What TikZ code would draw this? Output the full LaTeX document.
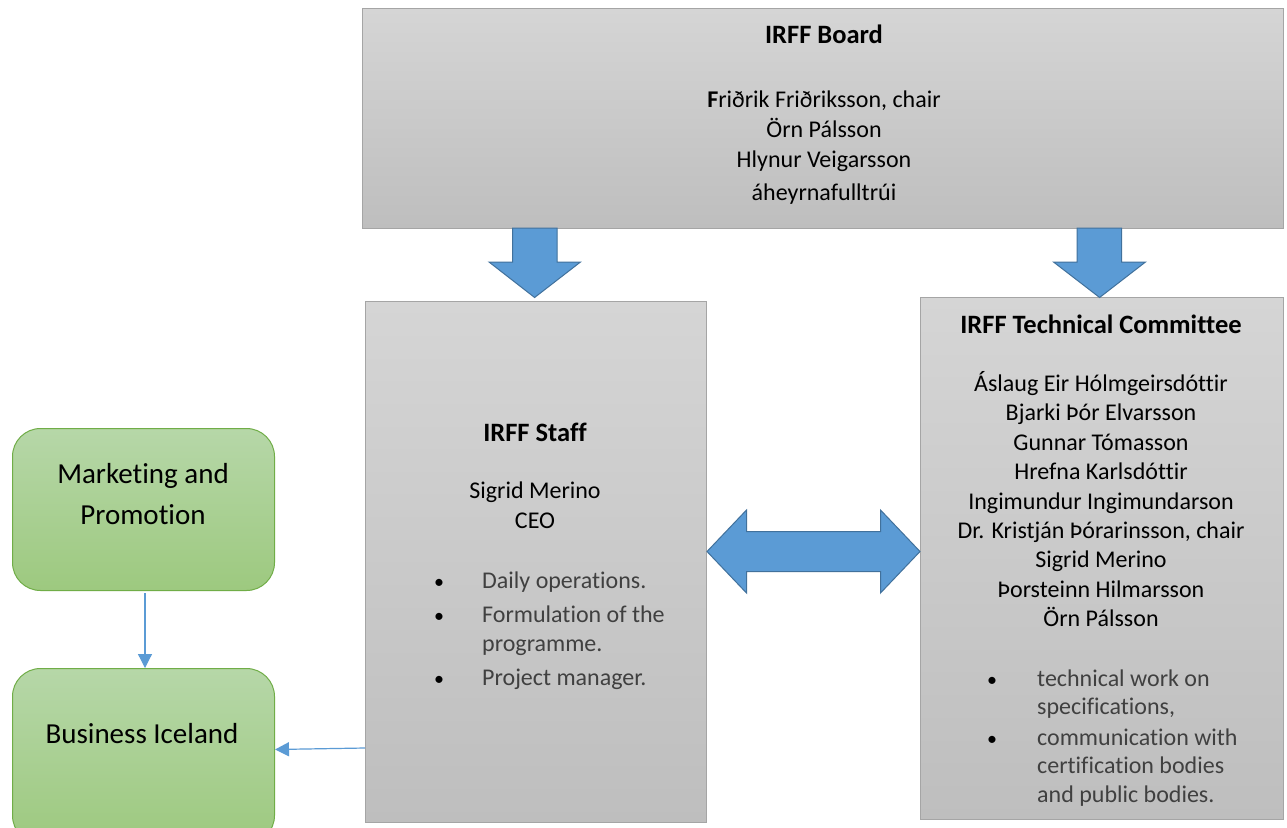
\documentclass[tikz,border=0pt]{standalone}
\usepackage{fontspec}
\setmainfont{Carlito}[Ligatures={NoCommon}]
\usetikzlibrary{arrows.meta}
\definecolor{grayTop}{HTML}{D5D5D5}
\definecolor{grayBot}{HTML}{BEBEBE}
\definecolor{grayLine}{HTML}{A5A5A5}
\definecolor{greenTop}{HTML}{B6D7A8}
\definecolor{greenBot}{HTML}{9DC97F}
\definecolor{greenLine}{HTML}{70AD47}
\definecolor{blueFill}{HTML}{5B9BD5}
\definecolor{blueLine}{HTML}{41719C}
\definecolor{bulletText}{HTML}{404040}
\tikzset{
  graybox/.style={draw=grayLine, line width=1pt, top color=grayTop, bottom color=grayBot, anchor=north west, inner sep=0pt},
  greenbox/.style={draw=greenLine, line width=1pt, top color=greenTop, bottom color=greenBot, anchor=north west, rounded corners=28pt, inner sep=0pt},
  txt/.style={anchor=base, inner sep=0pt, font=\fontsize{24}{29}\selectfont},
  btxt/.style={anchor=base, inner sep=0pt, font=\fontsize{26.5}{30}\selectfont\bfseries},
  gtxt/.style={anchor=base, inner sep=0pt, font=\fontsize{29}{41}\selectfont},
  litem/.style={anchor=base west, inner sep=0pt, text=bulletText, font=\fontsize{24}{29}\selectfont},
  bul/.style={anchor=base, inner sep=0pt, font=\fontsize{20}{29}\selectfont},
  blockarrow/.style={fill=blueFill, draw=blueLine, line width=1pt, line join=miter},
  thinarrow/.style={draw=blueFill, line width=1.2pt, -{Triangle[length=14pt, width=14pt]}}
}
\begin{document}
\begin{tikzpicture}[x=1pt,y=-1pt]
\useasboundingbox (0,0) rectangle (1287,827);
\fill[white] (0,0) rectangle (1287,827);

% boxes
\node[graybox, minimum width=921pt, minimum height=220pt] (board) at (362,8) {};
\node[graybox, minimum width=341pt, minimum height=521pt] (staff) at (365,301) {};
\node[graybox, minimum width=363pt, minimum height=522pt] (tech) at (920,297) {};
\node[greenbox, minimum width=262pt, minimum height=162pt] (mkt) at (12,428) {};
\node[greenbox, minimum width=262pt, minimum height=175pt] (bi) at (12,668) {};

% board text
\node[btxt] (bt) at (824,43) {IRFF Board};
\node[txt] (b1) at (824,107) {\textbf{F}riðrik Friðriksson, chair};
\node[txt] (b2) at (824,137) {Örn Pálsson};
\node[txt] (b3) at (824,167) {Hlynur Veigarsson};
\node[txt] (b4) at (824,200) {áheyrnafulltrúi};

% staff text
\node[btxt] (st) at (535,441) {IRFF Staff};
\node[txt] (s1) at (535,498) {Sigrid Merino};
\node[txt] (s2) at (535,528) {CEO};
\node[bul] (sb1) at (439,588) {•};
\node[litem] (si1) at (482,588) {Daily operations.};
\node[bul] (sb2) at (439,622) {•};
\node[litem] (si2) at (482,622) {Formulation of the};
\node[litem] (si3) at (482,651) {programme.};
\node[bul] (sb3) at (439,685) {•};
\node[litem] (si4) at (482,685) {Project manager.};

% tech text
\node[btxt] (tt) at (1101,333) {IRFF Technical Committee};
\node[txt] (t1) at (1101,391) {Áslaug Eir Hólmgeirsdóttir};
\node[txt] (t2) at (1101,420) {Bjarki Þór Elvarsson};
\node[txt] (t3) at (1101,450) {Gunnar Tómasson};
\node[txt] (t4) at (1101,479) {Hrefna Karlsdóttir};
\node[txt] (t5) at (1101,509) {Ingimundur Ingimundarson};
\node[txt] (t6) at (1101,538) {Dr. Kristján Þórarinsson, chair};
\node[txt] (t7) at (1101,567) {Sigrid Merino};
\node[txt] (t8) at (1101,597) {Þorsteinn Hilmarsson};
\node[txt] (t9) at (1101,626) {Örn Pálsson};
\node[bul] (tb1) at (992,686) {•};
\node[litem] (ti1) at (1037,686) {technical work on};
\node[litem] (ti2) at (1037,714) {specifications,};
\node[bul] (tb2) at (992,745) {•};
\node[litem] (ti3) at (1037,745) {communication with};
\node[litem] (ti4) at (1037,773) {certification bodies};
\node[litem] (ti5) at (1037,802) {and public bodies.};

% green text
\node[gtxt] (m1) at (143,483) {Marketing and};
\node[gtxt] (m2) at (143,524) {Promotion};
\node[gtxt] (g1) at (142,743) {Business Iceland};

% block arrows
\draw[blockarrow] (512.5,228) -- (557,228) -- (557,262) -- (580.5,262) -- (534.6,297.5) -- (489,262) -- (512.5,262) -- cycle;
\draw[blockarrow] (1077,228) -- (1121.5,228) -- (1121.5,262) -- (1145.5,262) -- (1099.6,297.5) -- (1053.5,262) -- (1077,262) -- cycle;
\draw[blockarrow] (707,551.5) -- (746.5,510) -- (746.5,531.5) -- (880.5,531.5) -- (880.5,510) -- (920,551.5) -- (880.5,593) -- (880.5,571.5) -- (746.5,571.5) -- (746.5,593) -- cycle;

% thin connectors
\coordinate (mk) at (145,593);
\draw[thinarrow] (mk) -- (bi.north -| mk);
\coordinate (sf) at (365,748);
\draw[thinarrow] (sf) -- (bi.east |- 0,749.5);
\end{tikzpicture}
\end{document}
